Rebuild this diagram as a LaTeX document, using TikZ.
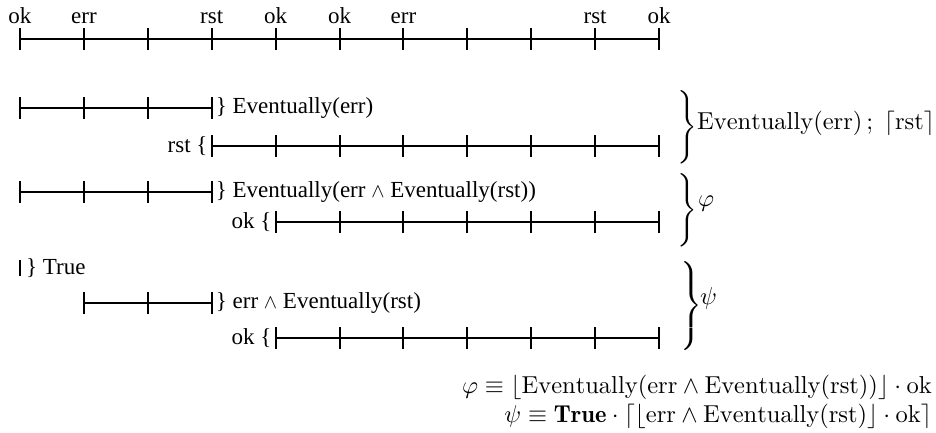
\documentclass[tikz,border=0pt]{standalone}
\usepackage{graphicx}
\usepackage{fontspec}
\newfontfamily\tnr{Liberation Serif}
\delimiterfactor=1000
\delimitershortfall=0pt
\newcommand{\mth}[1]{\scalebox{2.45}{$#1$}}
\newcommand{\andw}{\scalebox{0.8}{$\wedge$}}
\tikzset{
  tl/.style={line width=1.5pt},
  tk/.style={line width=2pt},
  lbl/.style={inner sep=0pt, font=\tnr\fontsize{23}{27}\selectfont},
  mlbl/.style={inner sep=0pt},
}
% \tline{name}{y}{first tick}{last tick}
\newcommand{\tline}[4]{%
  \foreach \i in {#3,...,#4} {\coordinate (#1-\i) at ({20+63.9*\i},#2);}
  \draw[tl] (#1-#3) -- (#1-#4);
  \foreach \i in {#3,...,#4} {\draw[tk] ([yshift=11pt]#1-\i) -- ([yshift=-11pt]#1-\i);}
}
\begin{document}
\begin{tikzpicture}[x=1pt,y=-1pt]
\useasboundingbox (0,0) rectangle (936,433);
% top timeline
\tline{t}{39}{0}{10}
\foreach \i/\s in {0/ok,1/err,3/rst,4/ok,5/ok,6/err,9/rst,10/ok}
  \node[lbl, anchor=base] (lab\i) at ({20+63.9*\i},24) {\s};
% row 1
\tline{a}{108}{0}{3}
\node[lbl, anchor=west] (ta) at ([xshift=4pt]a-3) {\} Eventually(err)};
\tline{b}{146}{3}{10}
\node[lbl, anchor=east] (tb) at ([xshift=-4pt]b-3) {rst \{};
% row 2
\tline{c}{192}{0}{3}
\node[lbl, anchor=west] (tc) at ([xshift=4pt]c-3) {\} Eventually(err \andw{} Eventually(rst))};
\tline{d}{222}{4}{10}
\node[lbl, anchor=east] (td) at ([xshift=-4pt]d-4) {ok \{};
% row 3
\coordinate (e) at (20,268);
\draw[tk] ([yshift=8pt]e) -- ([yshift=-8pt]e);
\node[lbl, anchor=west] (te) at ([xshift=6pt]e) {\} True};
\tline{f}{303}{1}{3}
\node[lbl, anchor=west] (tf) at ([xshift=4pt]f-3) {\} err \andw{} Eventually(rst)};
\tline{g}{338}{4}{10}
\node[lbl, anchor=east] (tg) at ([xshift=-4pt]g-4) {ok \{};
% braces
\node[mlbl, anchor=west] (B1) at (677,127.5) {\mth{\Bigg\}}};
\node[mlbl, anchor=west] (L1) at (697,123) {\mth{\mathrm{Eventually}(\mathrm{err})\,;\;\lceil\mathrm{rst}\rceil}};
\node[mlbl, anchor=west] (B2) at (677,210) {\mth{\Bigg\}}};
\node[mlbl, anchor=west] (L2) at (698,204) {\mth{\varphi}};
\node[mlbl, anchor=west] (B3) at (677,306) {\mth{\left.\vrule height 15pt depth 15pt width 0pt\right\}}};
\node[mlbl, anchor=west] (L3) at (700,298) {\mth{\psi}};
% formulas
\node[mlbl, anchor=base east] (F1) at (932,393) {\mth{\varphi\equiv\lfloor\mathrm{Eventually}(\mathrm{err}\wedge\mathrm{Eventually}(\mathrm{rst}))\rfloor\cdot\mathrm{ok}}};
\node[mlbl, anchor=base east] (F2) at (932,422) {\mth{\psi\equiv\mathbf{True}\cdot\lceil\lfloor\mathrm{err}\wedge\mathrm{Eventually}(\mathrm{rst})\rfloor\cdot\mathrm{ok}\rceil}};
\end{tikzpicture}
\end{document}
